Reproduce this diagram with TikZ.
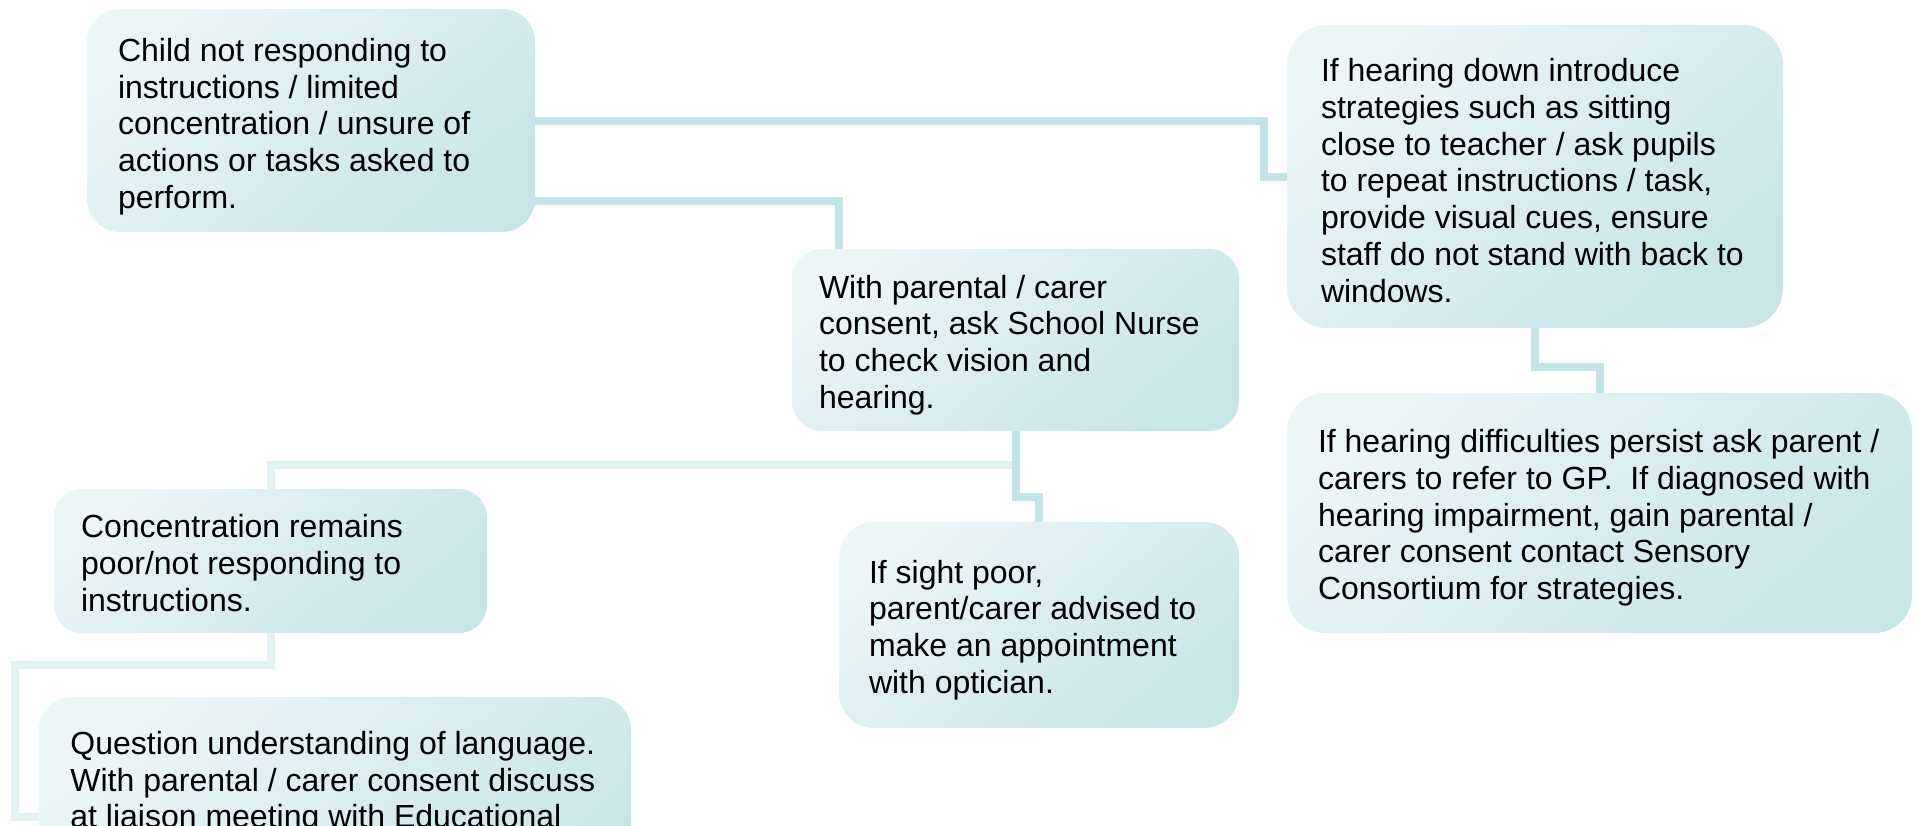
\documentclass[tikz,border=0pt]{standalone}
\usepackage{fontspec}
\setmainfont{Liberation Sans}
\usetikzlibrary{fit,calc}
\definecolor{boxlight}{HTML}{EBF6F7}
\definecolor{boxdark}{HTML}{C8E5E9}
\definecolor{conncol}{HTML}{C3E4E7}
\definecolor{connlightcol}{HTML}{E2F1F2}
\begin{document}
\begin{tikzpicture}[x=0.5pt,y=-0.5pt,
  box/.style={inner sep=0pt, draw=none, top color=boxlight, bottom color=boxdark, shading angle=40},
  txt/.style={inner sep=0pt, anchor=west, align=left, font=\fontsize{16}{18.35}\selectfont, text=black},
  conn/.style={line width=4pt, draw=conncol, line cap=butt, line join=miter},
  connlight/.style={line width=4pt, draw=connlightcol, line cap=butt, line join=miter}]
\useasboundingbox (0,0) rectangle (1917,825);
\clip (0,0) rectangle (1917,825);

% boxes
\node[box, rounded corners=16.5pt, fit={(87,9) (535,232)}] (A) {};
\node[box, rounded corners=15pt, fit={(792,249) (1239,431)}] (B) {};
\node[box, rounded corners=20pt, fit={(1287,25) (1783,328)}] (C) {};
\node[box, rounded corners=19pt, fit={(1287,393) (1912,633)}] (D) {};
\node[box, rounded corners=17.5pt, fit={(839,522) (1239,728)}] (E) {};
\node[box, rounded corners=14pt, fit={(54,489) (487,633)}] (F) {};
\node[box, rounded corners=16.5pt, fit={(39,697) (631,937)}] (G) {};

% connectors (light ones first)
\draw[connlight] ($(B.south)+(0,34)$) -| (F.north);
\draw[connlight] (F.south) -- ++(0,32) -| ($(G.west)+(-24,0)$) -- (G.west);
\draw[conn] (A.east) -| ($(C.west)+(-23,0)$) -- (C.west);
\draw[conn] ($(A.south east)+(0,-31)$) -| ($(B.north west)+(47,0)$);
\draw[conn] (C.south) |- ($(D.north)+(0,-26)$) -- (D.north);
\draw[conn] (B.south) |- ($(E.north)+(0,-25)$) -- (E.north);

% texts
\node[txt] (At) at ($(A.west)+(31,6)$) {Child not responding to\\instructions / limited\\concentration / unsure of\\actions or tasks asked to\\perform.};
\node[txt] (Bt) at ($(B.west)+(27,5)$) {With parental / carer\\consent, ask School Nurse\\to check vision and\\hearing.};
\node[txt] (Ct) at ($(C.west)+(34,4)$) {If hearing down introduce\\strategies such as sitting\\close to teacher / ask pupils\\to repeat instructions / task,\\provide visual cues, ensure\\staff do not stand with back to\\windows.};
\node[txt] (Dt) at ($(D.west)+(31,5)$) {If hearing difficulties persist ask parent /\\carers to refer to GP.\ \ If diagnosed with\\hearing impairment, gain parental /\\carer consent contact Sensory\\Consortium for strategies.};
\node[txt] (Et) at ($(E.west)+(30,5)$) {If sight poor,\\parent/carer advised to\\make an appointment\\with optician.};
\node[txt] (Ft) at ($(F.west)+(27,2)$) {Concentration remains\\poor/not responding to\\instructions.};
\node[txt, anchor=north west] (Gt) at (70,731) {Question understanding of language.\\With parental / carer consent discuss\\at liaison meeting with Educational};
\end{tikzpicture}
\end{document}
